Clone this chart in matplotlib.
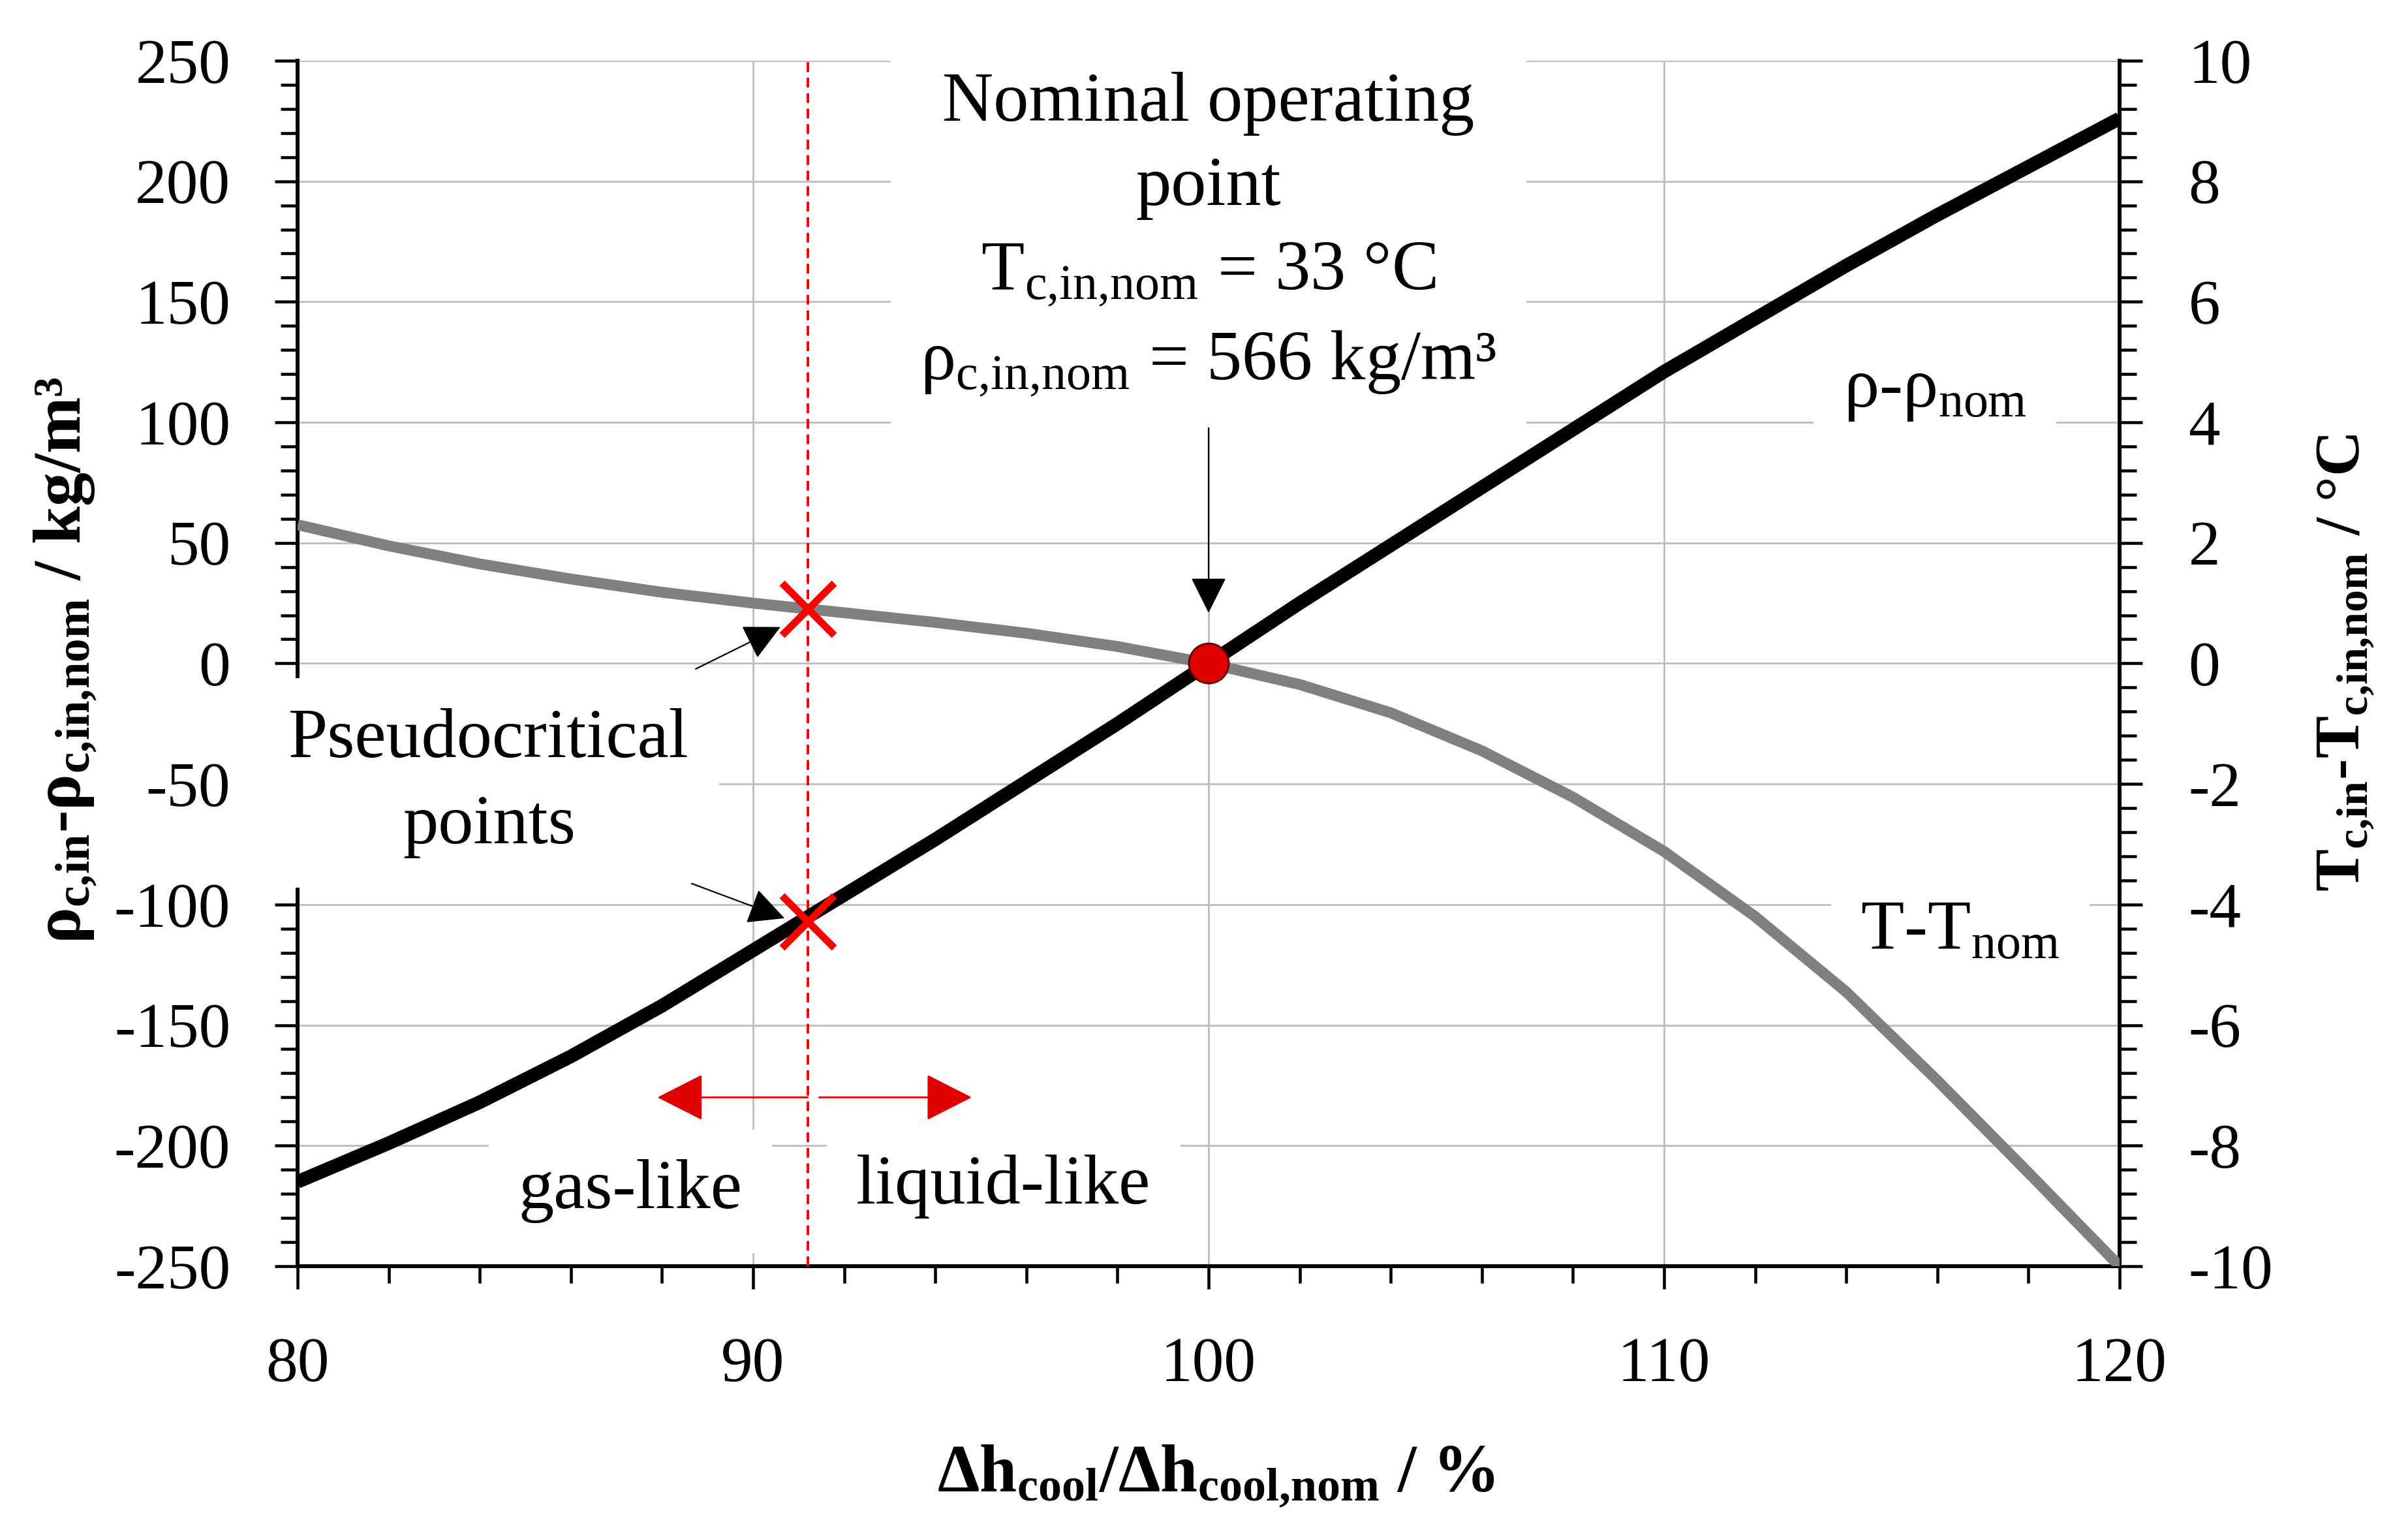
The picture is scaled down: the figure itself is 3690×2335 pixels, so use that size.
import matplotlib
matplotlib.use('Agg')
import matplotlib.pyplot as plt
from matplotlib.ticker import MultipleLocator

plt.rcParams['font.family'] = ['Liberation Serif', 'DejaVu Serif']
plt.rcParams['mathtext.default'] = 'regular'
plt.rcParams['axes.unicode_minus'] = False

## Values
h_ratio = [80, 82, 84, 86, 88, 90, 92, 94, 96, 98, 100,
           102, 104, 106, 108, 110, 112, 114, 116, 118, 120]
rho_diff = [-215, -199, -182, -163, -142, -119, -96, -73, -49, -25, 0,
            25, 49, 73, 97, 121, 143, 165, 186, 206, 226]
temp_diff = [2.3, 1.95, 1.65, 1.4, 1.18, 1.0, 0.84, 0.68, 0.5, 0.28, 0.0,
             -0.35, -0.82, -1.45, -2.22, -3.12, -4.2, -5.45, -6.92, -8.45, -10.0]
pc_x = 91.2          # pseudocritical point
pc_rho = -107
pc_temp = 0.9
nom_x, nom_rho = 100, 0

FS = 70
TXT = 78
box = dict(boxstyle='square,pad=0.42', fc='white', ec='none')

fig = plt.figure(figsize=(36.9, 23.35), dpi=100)
ax = fig.add_axes([0.1236, 0.1692, 0.7566, 0.791])
ax2 = ax.twinx()

## Axes, ticks and grid
ax.set_xlim(80, 120)
ax.set_ylim(-250, 250)
ax2.set_ylim(-10, 10)
ax.xaxis.set_major_locator(MultipleLocator(10))
ax.xaxis.set_minor_locator(MultipleLocator(2))
ax.yaxis.set_major_locator(MultipleLocator(50))
ax.yaxis.set_minor_locator(MultipleLocator(10))
ax2.yaxis.set_major_locator(MultipleLocator(2))
ax2.yaxis.set_minor_locator(MultipleLocator(0.4))
ax.grid(True, which='major', color='#bdbdbd', lw=2)

for a, p in ((ax, 49), (ax2, 51)):
    a.tick_params(which='both', direction='out', width=3.3, color='black',
                  labelsize=FS)
    a.tick_params(which='major', length=25)
    a.tick_params(which='minor', length=19)
    a.tick_params(axis='y', pad=p)
ax.tick_params(axis='x', pad=53)

for s in ax.spines.values():
    s.set_visible(False)
ax2.spines['top'].set_visible(False)
for k in ('left', 'right', 'bottom'):
    ax2.spines[k].set_linewidth(4.3)
    ax2.spines[k].set_color('black')

## Curves
ax2.plot(h_ratio, temp_diff, color='#808080', lw=12, solid_capstyle='butt',
         solid_joinstyle='round', zorder=4)
ax2.plot(h_ratio, rho_diff, color='black', lw=15, solid_capstyle='butt',
         solid_joinstyle='round', transform=ax.transData, zorder=4.5)
ax2.axvline(pc_x, color='red', lw=2.9, dashes=(3.7, 2.2), zorder=4)

## Markers
ax2.plot([pc_x], [pc_temp], 'x', color='red', ms=58, mew=8, zorder=6)
ax2.plot([pc_x], [pc_rho], 'x', color='red', ms=58, mew=8, zorder=6,
         transform=ax.transData)
ax2.plot([nom_x], [nom_rho], 'o', color='#e00000', mec='#600000', mew=2,
         ms=44, zorder=7, transform=ax.transData)

## Text boxes
ax2.text(100, 245.5, 'Nominal operating\npoint\n'
         'T$_{c{,}in{,}nom}$ = 33 °C\nρ$_{c{,}in{,}nom}$ = 566 kg/m³',
         transform=ax.transData, ha='center', va='top', fontsize=TXT,
         linespacing=1.42, bbox=box, zorder=3, clip_on=False)
ax2.text(84.2, -18.5, 'Pseudocritical\npoints', transform=ax.transData,
         ha='center', va='top', fontsize=TXT, linespacing=1.45, bbox=box,
         zorder=3, clip_on=False)
ax2.text(115.95, 106.5, 'ρ-ρ$_{nom}$', transform=ax.transData, ha='center',
         va='baseline', fontsize=TXT, bbox=box, zorder=3)
ax2.text(116.5, -118.4, 'T-T$_{nom}$', transform=ax.transData, ha='center',
         va='baseline', fontsize=TXT, bbox=box, zorder=3)
ax2.text(87.3, -226, 'gas-like', transform=ax.transData, ha='center',
         va='baseline', fontsize=TXT, bbox=box, zorder=3)
ax2.text(95.5, -224, 'liquid-like', transform=ax.transData, ha='center',
         va='baseline', fontsize=TXT, bbox=box, zorder=3)

## Arrows
blk = dict(arrowstyle='-|>,head_length=0.5,head_width=0.25', mutation_scale=70,
           lw=1.6, color='black', shrinkA=0, shrinkB=0)
ax2.annotate('', xy=(100, 21), xytext=(100, 97.6), xycoords=ax.transData,
             textcoords=ax.transData, arrowprops=blk, zorder=6)
ax2.annotate('', xy=(90.6, 15.1), xytext=(88.74, -2.3), xycoords=ax.transData,
             textcoords=ax.transData, arrowprops=blk, zorder=6)
ax2.annotate('', xy=(90.69, -105.7), xytext=(88.65, -91.3),
             xycoords=ax.transData, textcoords=ax.transData, arrowprops=blk,
             zorder=6)
red = dict(arrowstyle='-|>,head_length=0.65,head_width=0.33', mutation_scale=70,
           lw=2, color='#e00000', shrinkA=0, shrinkB=0)
ax2.annotate('', xy=(87.9, -180), xytext=(pc_x, -180), xycoords=ax.transData,
             textcoords=ax.transData, arrowprops=red, zorder=6)
ax2.annotate('', xy=(94.8, -180), xytext=(91.45, -180), xycoords=ax.transData,
             textcoords=ax.transData, arrowprops=red, zorder=6)

## Axis titles
fig.text(0.0271, 0.5666, 'ρ$_{c{,}in}$-ρ$_{c{,}in{,}nom}$ / kg/m³',
         rotation=90, ha='center', va='center', fontsize=75, fontweight='bold')
fig.text(0.9743, 0.565, 'T$_{c{,}in}$-T$_{c{,}in{,}nom}$ / °C',
         rotation=90, ha='center', va='center', fontsize=FS, fontweight='bold')
fig.text(0.505, 0.0313, 'Δh$_{cool}$/Δh$_{cool{,}nom}$ / %',
         ha='center', va='center', fontsize=74, fontweight='bold')

fig.savefig('out.png', dpi=100, facecolor='white')
